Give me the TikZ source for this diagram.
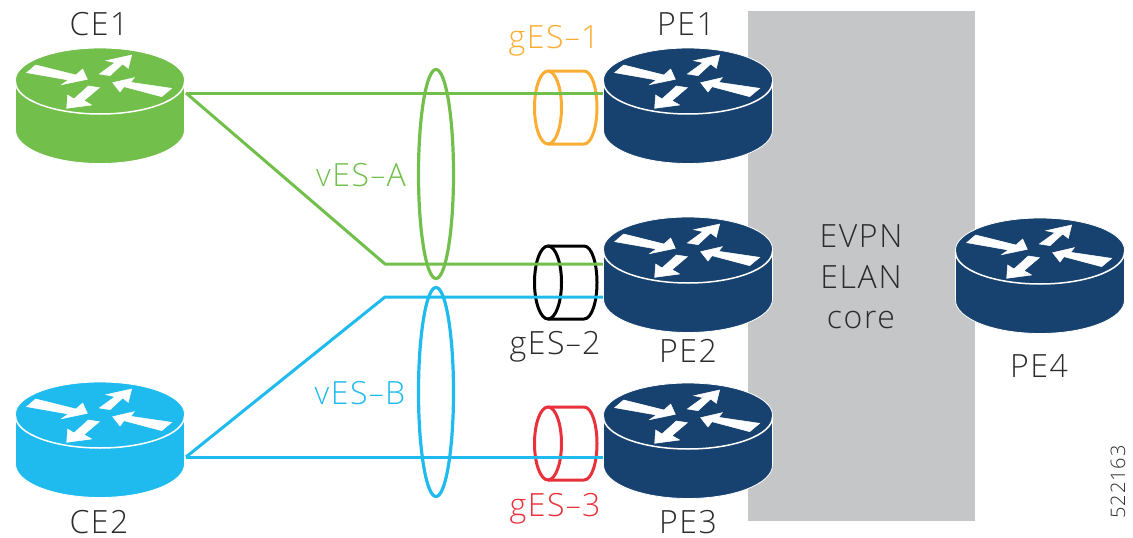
\documentclass[tikz,border=0pt]{standalone}
\usepackage{fontspec}
\setmainfont[Ligatures=TeX,LetterSpace=5]{Open Sans Light}
\definecolor{cegreen}{HTML}{72BF4C}
\definecolor{ceblue}{HTML}{1FBBEE}
\definecolor{penavy}{HTML}{17426F}
\definecolor{gorange}{HTML}{FBAD33}
\definecolor{gred}{HTML}{E8313A}
\definecolor{coregrey}{HTML}{C5C6C8}
\definecolor{txt}{HTML}{2B2B2B}
\newcommand{\widehy}{\scalebox{1.7}[1]{-}}
\tikzset{
  x=1pt,y=-1pt,
  link/.style={line width=3pt,line join=round},
  lbl/.style={font=\fontsize{32}{40.5}\selectfont,inner sep=0pt,text=txt,anchor=base},
  pics/router/.style={code={
    \fill[#1,draw=white,line width=0.8pt] (-84.5,0) -- (-84.5,50) arc[start angle=180,end angle=360,x radius=84.5,y radius=-33.5] -- (84.5,0) arc[start angle=0,end angle=180,x radius=84.5,y radius=-32] -- cycle;
    \draw[white,line width=1.5pt] (-84.5,2) arc[start angle=180,end angle=360,x radius=84.5,y radius=-32];
    \begin{scope}[x=0.3333pt,y=-0.3333pt,shift={(-300,-240)}]
      \filldraw[white,line width=0.5pt] (107,195)--(228,225)--(248,207)--(262,238)--(185,254)--(205,240)--(80,218)--cycle;
      \filldraw[white,line width=0.5pt] (395,165)--(385,205)--(368,192)--(330,227)--(298,222)--(345,188)--(318,182)--cycle;
      \filldraw[white,line width=0.5pt] (338,248)--(403,233)--(392,247)--(515,265)--(485,290)--(372,260)--(360,276)--cycle;
      \filldraw[white,line width=0.5pt] (200,325)--(203,285)--(222,297)--(265,258)--(298,263)--(252,302)--(275,315)--cycle;
    \end{scope}
  }},
  pics/gcyl/.style={code={
    \draw[#1,line width=3pt] (0,-36.5) ellipse[x radius=13.5,y radius=36.5];
    \draw[#1,line width=3pt,line join=round] (0,-73) -- (36,-73) .. controls (44,-73) and (49,-55) .. (49,-36.5) .. controls (49,-18) and (44,0) .. (36,0) -- (0,0);
  }}
}
\begin{document}
\begin{tikzpicture}
\useasboundingbox (0,0) rectangle (1133,538);
\fill[coregrey] (748,11) rectangle (975,521);

\pic at (548,144) {gcyl=gorange};
\pic at (548,319) {gcyl=black};
\pic at (548,480) {gcyl=gred};

\coordinate (ce1p) at (186,93);
\coordinate (ce2p) at (186,457);
\coordinate (pe1p) at (606,93);
\coordinate (pe2a) at (606,264);
\coordinate (pe2b) at (606,297);
\coordinate (pe3p) at (606,457);
\coordinate (ja) at (385,264);
\coordinate (jb) at (385,297);

\draw[link,cegreen] (ce1p) -- (pe1p);
\draw[link,cegreen] (ce1p) -- (ja) -- (pe2a);
\draw[link,ceblue] (ce2p) -- (jb) -- (pe2b);
\draw[link,ceblue] (ce2p) -- (pe3p);

\draw[cegreen,line width=3.2pt] (436,174) ellipse[x radius=17.5,y radius=104.5];
\draw[ceblue,line width=3.2pt] (436,392) ellipse[x radius=17.5,y radius=104.5];

\pic at (100,80) {router=cegreen};
\pic at (100,414) {router=ceblue};
\pic at (688,80) {router=penavy};
\pic at (688,249) {router=penavy};
\pic at (688,415) {router=penavy};
\pic at (1040,250) {router=penavy};

\node[lbl] (lce1) at (99,35) {CE1};
\node[lbl] (lce2) at (99,533) {CE2};
\node[lbl] (lpe1) at (686,35) {PE1};
\node[lbl] (lpe2) at (688,362) {PE2};
\node[lbl] (lpe3) at (688,533) {PE3};
\node[lbl] (lpe4) at (1039,377) {PE4};
\node[lbl,text=gorange] (lg1) at (554,48) {gES\widehy1};
\node[lbl] (lg2) at (555,354) {gES\widehy2};
\node[lbl,text=gred] (lg3) at (555,516) {gES\widehy3};
\node[lbl,text=cegreen] (lva) at (361,186) {vES\widehy A};
\node[lbl,text=ceblue] (lvb) at (360,404) {vES\widehy B};
\node[lbl,align=center,anchor=center] (lcore) at (861,277) {EVPN\\ELAN\\core};
\node[lbl,anchor=center,font=\fontsize{20}{24}\selectfont,rotate=90] (lnum) at (1118,482) {522163};
\end{tikzpicture}
\end{document}
